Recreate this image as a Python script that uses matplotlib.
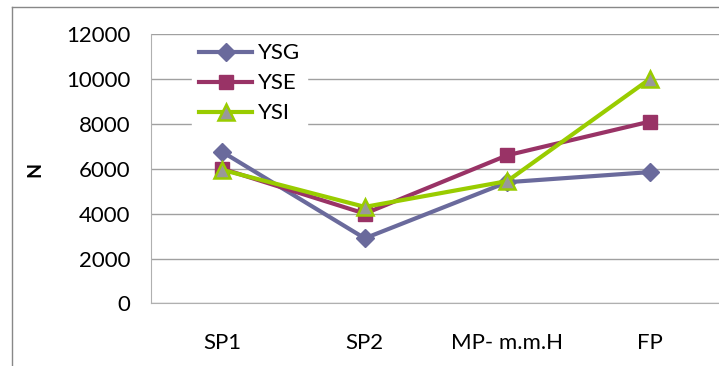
import numpy as np
import matplotlib.pyplot as plt
from matplotlib.lines import Line2D

plt.rcParams['font.family'] = ['Lato', 'DejaVu Sans']

# 各阶段的测量值
stages = ['SP1', 'SP2', 'MP- m.m.H', 'FP']
ysg = [6750, 2900, 5400, 5850]
yse = [6000, 4000, 6600, 8100]
ysi = [5950, 4300, 5450, 10000]
y_ticks = [0, 2000, 4000, 6000, 8000, 10000, 12000]


def main():
    fig = plt.figure(figsize=(7.19, 3.66), dpi=100)
    ax = fig.add_axes([0.210, 0.171, 0.793, 0.736])

    x = np.arange(len(stages))

    ax.plot(x, ysg, color='#6A6A9C', lw=3, marker='D', ms=9.5,
            mfc='#6A6A9C', mec='#6A6A9C', label='YSG', zorder=3)
    ax.plot(x, yse, color='#993366', lw=3, marker='s', ms=10.5,
            mfc='#993366', mec='#993366', label='YSE', zorder=4)
    ax.plot(x, ysi, color='#99CC00', lw=3, marker='^', ms=11,
            mfc='#999999', mec='#99CC00', mew=1.8, label='YSI', zorder=5)

    ax.set_xlim(-0.5, len(stages) - 0.5)
    ax.set_ylim(0, 12000)
    ax.set_yticks(y_ticks)
    ax.set_yticklabels([str(t) for t in y_ticks], fontsize=16)
    ax.set_xticks(x)
    ax.set_xticklabels(stages, fontsize=16)
    ax.tick_params(axis='both', length=0)
    ax.tick_params(axis='y', pad=15)
    ax.tick_params(axis='x', pad=21)

    # 网格线
    ax.grid(axis='y', color='#A0A0A0', lw=1)
    ax.set_axisbelow(True)
    for side in ['top', 'right']:
        ax.spines[side].set_visible(False)
    ax.spines['left'].set_color('#B0B0B0')
    ax.spines['bottom'].set_color('#B0B0B0')

    fig.text(35 / 719, 1 - 169 / 366, 'N', rotation=90, fontsize=14,
             fontweight='bold', ha='center', va='center')

    leg = ax.legend(loc='upper left', bbox_to_anchor=(0.252, 0.93),
                    bbox_transform=fig.transFigure, frameon=True,
                    fontsize=16, handlelength=2.4, handletextpad=0.25,
                    labelspacing=0.45, borderpad=0.3)
    leg.get_frame().set_edgecolor('white')
    leg.get_frame().set_facecolor('white')
    leg.get_frame().set_alpha(1)

    # 外框
    fig.add_artist(Line2D([12 / 719, 12 / 719], [0, 1 - 7 / 366],
                          transform=fig.transFigure, color='#888888', lw=1))
    fig.add_artist(Line2D([12 / 719, 1], [1 - 7 / 366, 1 - 7 / 366],
                          transform=fig.transFigure, color='#888888', lw=1))

    plt.savefig('out.png', dpi=100)
    plt.close()


if __name__ == '__main__':
    main()
